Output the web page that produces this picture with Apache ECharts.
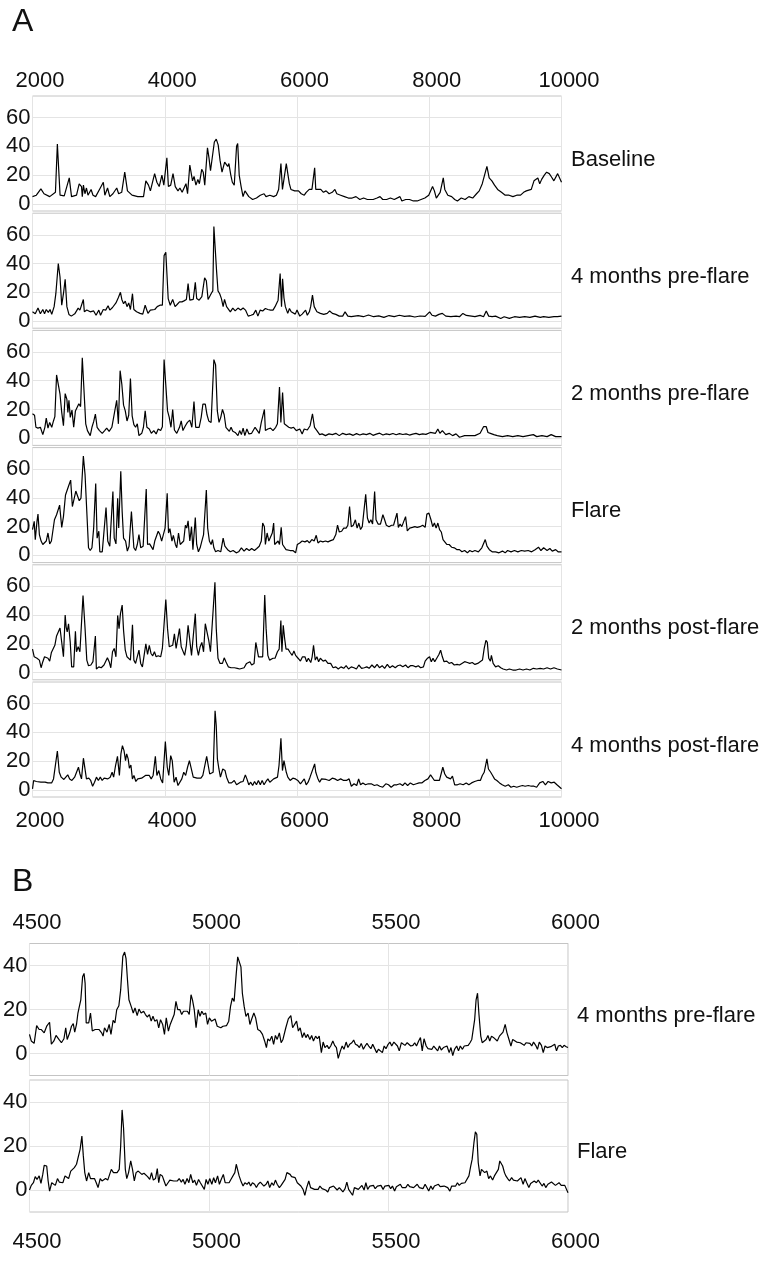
<!DOCTYPE html>
<html>
<head>
<meta charset="utf-8">
<script src="https://cdn.jsdelivr.net/npm/echarts@6/dist/echarts.min.js"></script>
<style>
html,body{margin:0;padding:0;background:#fff}
#main{width:771px;height:1264px}
</style>
</head>
<body>
<div id="main"></div>
<script>
// panel A: spectra 2000-10000, [m/z, intensity]
var baseline = [[2000,5],[2058,6],[2127,10.4],[2174,7],[2260,5],[2347,8],[2376,41.6],[2417,6],[2480,5.5],[2556,18],[2590,5],[2666,6],[2706,13.9],[2741,12],[2753,5],[2770,13],[2793,7],[2816,11],[2839,6],[2886,10],[2915,6],[2955,5],[3025,11],[3071,15],[3094,6],[3135,11],[3169,5],[3216,7],[3274,11],[3303,7],[3349,8],[3395,22],[3436,9],[3505,6],[3592,5],[3679,5],[3714,16],[3754,13],[3783,9],[3847,21],[3881,15],[3916,12],[3957,20],[3986,13],[4032,32],[4055,12],[4090,13],[4125,21],[4159,12],[4200,9],[4229,11],[4263,8],[4321,14],[4345,7],[4379,27],[4402,26],[4420,16],[4443,19],[4472,13],[4501,17],[4524,14],[4559,24],[4582,22],[4605,13],[4646,39],[4669,32],[4692,23],[4715,22],[4750,43],[4779,45],[4808,41],[4837,30],[4866,22],[4906,29],[4923,28],[4952,26],[4970,28],[4999,20],[5022,15],[5051,13],[5086,40],[5103,42],[5126,20],[5155,12],[5184,5],[5213,9],[5242,9],[5271,5],[5329,3],[5387,4],[5445,6],[5502,7],[5531,5],[5589,6],[5647,5],[5688,6],[5722,10],[5757,28],[5780,10],[5809,9],[5838,28],[5861,27],[5884,14],[5908,10],[5965,9],[6023,9],[6064,7],[6110,6],[6139,8],[6185,10],[6226,10],[6267,25],[6284,10],[6313,11],[6359,10],[6400,8],[6440,9],[6486,7],[6533,8],[6573,10],[6602,7],[6660,6],[6718,5],[6776,4],[6834,4],[6892,5],[6950,3],[7007,4],[7065,3],[7152,3],[7210,4],[7256,5],[7297,3],[7355,3],[7413,4],[7471,3],[7557,5],[7586,2],[7644,3],[7702,3],[7760,2],[7818,2],[7876,3],[7934,4],[7992,6],[8050,12],[8078,9],[8107,4],[8165,8],[8212,18],[8235,10],[8281,6],[8339,5],[8385,3],[8426,2],[8484,4],[8542,3],[8599,5],[8657,4],[8715,7],[8756,9],[8802,14],[8872,26],[8906,18],[8947,16],[8987,13],[9034,10],[9092,8],[9149,6],[9207,6],[9265,5],[9323,6],[9381,6],[9427,8],[9468,9],[9497,10],[9543,10],[9584,16],[9613,17],[9642,18],[9671,14],[9700,17],[9740,20],[9775,22],[9815,21],[9844,19],[9885,16],[9913,15],[9942,21],[9966,20],[10000,15]];

var preFlare4 = [[2000,6.4],[2042,5],[2083,9],[2119,5],[2156,8],[2182,5],[2208,8],[2239,6],[2265,8],[2291,4.6],[2327,10],[2353,19],[2390,40],[2416,30.6],[2442,11],[2468,19],[2494,29],[2520,10],[2551,4.6],[2587,3.4],[2639,5],[2691,9],[2717,7.6],[2769,15],[2784,6.4],[2821,7.6],[2873,6.4],[2925,7],[2961,4],[3003,7.6],[3029,4],[3070,8],[3107,7.6],[3143,10.6],[3169,7.6],[3210,9.4],[3262,12.6],[3299,16.3],[3330,20],[3351,15],[3377,12],[3403,13.8],[3429,10],[3455,12.6],[3481,8],[3512,19],[3533,8],[3574,6.4],[3626,5.3],[3668,4.8],[3704,11],[3730,11],[3746,5.3],[3782,7.6],[3808,8.7],[3849,8],[3886,10],[3927,11],[3964,11],[3990,45.5],[4016,47.8],[4042,49],[4052,15.6],[4083,11],[4120,15],[4156,10],[4187,11.5],[4223,13.3],[4260,13.3],[4291,14],[4327,15],[4353,26],[4379,14.5],[4431,15],[4462,27],[4483,15.6],[4520,14.5],[4561,17],[4603,30],[4629,28],[4655,15],[4681,14],[4707,19.5],[4727,21],[4743,65.7],[4769,65.7],[4785,34],[4805,21],[4831,19],[4857,15.6],[4883,10],[4904,15],[4935,10],[4961,11],[4992,6.4],[5029,9],[5065,7],[5107,9],[5148,7.6],[5185,9],[5221,7.6],[5262,3.4],[5304,4],[5340,4.6],[5377,7.6],[5408,3.4],[5444,7.6],[5481,7],[5522,8.7],[5559,8],[5600,7.6],[5637,7.6],[5668,10],[5688,8.7],[5714,14.5],[5745,33],[5766,10],[5782,29.4],[5803,16],[5824,10],[5860,5.3],[5886,8.7],[5912,6.4],[5938,7.6],[5974,4.8],[6000,7.6],[6042,3.4],[6078,4.8],[6104,4],[6130,7.6],[6156,4],[6187,6.4],[6208,10.3],[6234,18],[6260,10],[6301,6.4],[6353,5.3],[6405,4.6],[6457,5.3],[6494,7],[6535,5.3],[6587,4.6],[6639,3.4],[6691,3.4],[6727,6.4],[6769,3.4],[6821,3],[6873,3.4],[6925,3.8],[7003,3],[7081,4.2],[7159,3],[7236,3.6],[7314,2.5],[7392,3.8],[7470,3],[7548,4],[7626,3.2],[7704,3.6],[7782,2.8],[7860,3.5],[7938,3.2],[8006,6.4],[8042,4],[8094,3.4],[8146,4.6],[8198,5.3],[8250,3.4],[8327,3],[8405,3.4],[8457,3],[8509,5.3],[8561,3.9],[8639,3.4],[8691,3],[8769,3.9],[8821,3],[8862,7],[8899,3.4],[8951,3],[9003,3.4],[9081,1.8],[9133,3],[9211,1.8],[9289,3],[9367,2.5],[9444,3],[9522,2.5],[9600,3.4],[9678,2.5],[9730,3],[9808,2.5],[9886,3],[9938,3],[10000,3.4]];

var preFlare2 = [[2000,17],[2031,16],[2052,7.6],[2083,7],[2119,7.6],[2156,2.5],[2187,7.6],[2208,14],[2234,7],[2260,11],[2291,7.6],[2317,12],[2338,15],[2364,44],[2390,44.4],[2416,30.6],[2442,18],[2468,8.7],[2494,31],[2520,27],[2535,18],[2551,26.4],[2571,14.5],[2597,19.5],[2623,7.6],[2649,19],[2675,19],[2701,24],[2727,22],[2753,56],[2779,33],[2805,10],[2831,5.3],[2873,1.8],[2899,7.6],[2925,11.5],[2951,16.8],[2977,7.6],[3013,5.3],[3055,3.4],[3091,5.3],[3122,7],[3159,4.8],[3200,7.6],[3226,8.7],[3273,26.4],[3299,10],[3325,47],[3351,37.5],[3377,23],[3403,19],[3429,12],[3455,16],[3481,41.6],[3507,15.6],[3533,9.4],[3559,7.6],[3585,10],[3610,1.8],[3652,3.4],[3678,7.6],[3704,19],[3730,7.6],[3766,6.4],[3797,3.4],[3834,5.3],[3870,3],[3901,6.4],[3938,5.3],[3964,8],[3990,54.7],[4016,54.3],[4042,19],[4068,14.5],[4094,7.6],[4120,20],[4146,5.7],[4182,3.4],[4223,7.6],[4249,12],[4275,5.3],[4312,8.7],[4343,11],[4379,12.6],[4410,7.6],[4442,25.5],[4468,7.6],[4494,8.7],[4520,7.6],[4551,14.5],[4577,23.7],[4613,23.7],[4639,16.3],[4665,12],[4701,11],[4743,54.7],[4769,51],[4795,19],[4821,11],[4847,14.5],[4873,20],[4899,16.3],[4925,7.6],[4951,6.4],[4977,4.8],[5003,7.6],[5029,4.8],[5065,4],[5107,1.8],[5133,5.3],[5159,2.5],[5185,7],[5211,1.8],[5242,6.4],[5273,3],[5314,3.4],[5340,4],[5366,7.6],[5392,6.4],[5429,3.4],[5460,11],[5507,20],[5522,5.3],[5559,6.4],[5600,7],[5637,5.3],[5678,7.6],[5704,10],[5735,35.6],[5756,11],[5782,31.7],[5808,10],[5834,8.7],[5875,7.6],[5912,7],[5948,7.6],[5990,5.3],[6042,6.4],[6078,3],[6109,6.4],[6156,5.7],[6198,8.7],[6234,17],[6265,7.6],[6301,5.3],[6343,2.5],[6379,3],[6431,1.8],[6483,3],[6535,2.5],[6587,3.4],[6639,1.8],[6691,3.4],[6743,2.5],[6795,3],[6850,2],[6900,3.2],[6950,2.2],[7000,3],[7050,2.5],[7100,3.4],[7150,2],[7200,2.8],[7250,3.5],[7300,2.2],[7350,3],[7400,2.5],[7450,3.3],[7500,2.4],[7550,3.2],[7600,2.6],[7650,3],[7700,2.2],[7750,2.8],[7800,3.4],[7850,2.5],[7900,3],[7950,2.7],[8016,4],[8042,5.3],[8094,3.4],[8130,6.4],[8161,3.4],[8198,5.3],[8250,2.5],[8301,3.4],[8353,1.8],[8405,3],[8457,0.7],[8535,1.8],[8613,1.8],[8691,1.8],[8769,3.4],[8821,8],[8862,8],[8888,4],[8925,3.4],[8977,2.5],[9029,1.8],[9107,1.1],[9185,1.8],[9263,1.1],[9340,1.8],[9418,1.1],[9496,1.8],[9574,2.5],[9626,1.1],[9704,1.8],[9782,1.1],[9844,2.5],[9912,1.1],[10000,1.1]];

var flare = [[2000,18],[2026,23.7],[2042,11],[2068,23.7],[2083,28.7],[2104,14.5],[2130,10],[2156,7.6],[2182,6.4],[2208,10],[2234,15.6],[2260,8],[2286,10],[2312,8.7],[2332,24.8],[2364,28.3],[2390,29.4],[2410,35],[2442,19.5],[2468,27],[2499,42],[2525,43],[2551,49],[2577,52.4],[2603,34],[2629,34],[2655,44.8],[2681,44.4],[2707,38],[2733,39.8],[2769,69.2],[2795,56],[2821,30.6],[2847,5.3],[2873,3.4],[2899,5.3],[2925,19],[2956,50],[2977,12],[3003,16.8],[3018,2.5],[3055,2.5],[3081,3],[3112,33.3],[3138,10],[3169,6.4],[3184,19],[3216,44.4],[3236,12],[3262,8],[3288,39.8],[3304,19],[3335,58.6],[3356,30.6],[3377,12],[3408,10],[3434,3],[3460,6.4],[3496,30.6],[3512,31.7],[3533,5.3],[3559,3.4],[3585,7.6],[3610,14.5],[3636,5.3],[3673,6.4],[3720,46.2],[3740,7.6],[3771,8],[3797,7.6],[3823,4],[3849,10],[3875,11],[3901,16.8],[3927,14.5],[3953,10],[3979,14.5],[4005,19],[4037,43.2],[4057,15.6],[4078,18.6],[4109,10],[4130,14],[4161,7.6],[4182,5.3],[4208,15.6],[4234,7.6],[4260,6.4],[4286,10],[4312,21],[4332,19],[4353,24],[4379,10],[4405,20],[4426,4],[4462,26.4],[4483,7.6],[4509,2.5],[4535,5.3],[4561,10],[4587,14.5],[4629,45.5],[4649,19],[4675,10],[4701,7.6],[4722,11],[4743,5.3],[4769,2.5],[4805,3.4],[4847,2.5],[4883,12],[4909,6.4],[4951,4],[4992,2.5],[5034,3.4],[5081,1.8],[5117,2.5],[5159,5.3],[5200,3],[5237,4.8],[5278,3.4],[5314,4.8],[5356,3.4],[5392,4.8],[5429,6.4],[5460,10],[5481,22.5],[5507,20],[5522,7.6],[5548,15.6],[5574,10],[5600,8.7],[5626,15.6],[5647,22.5],[5662,7.6],[5688,7.6],[5714,10],[5735,7.6],[5761,19.5],[5782,7.6],[5808,8.7],[5834,4],[5860,5.3],[5896,3.4],[5938,3.4],[5979,1.8],[6005,7.6],[6042,8.7],[6078,10],[6120,9.4],[6156,10.3],[6187,8.7],[6224,11],[6260,10],[6291,14],[6317,8.7],[6353,10],[6390,9.4],[6431,10],[6468,9.4],[6509,10.3],[6551,11],[6587,14.5],[6613,21],[6639,16.3],[6675,16.8],[6706,19],[6743,19],[6769,21],[6795,34],[6821,20],[6852,21],[6883,24.8],[6909,19],[6935,22.5],[6961,18],[6987,20],[7039,42.5],[7065,26],[7091,22.5],[7117,24.8],[7143,21.8],[7174,44.4],[7195,24.8],[7226,21.8],[7262,21.8],[7299,28.3],[7325,24.8],[7351,21],[7392,20],[7429,21],[7460,21],[7481,20],[7512,29.4],[7533,19.5],[7559,21.8],[7585,20],[7611,19],[7642,27],[7668,17],[7704,19],[7746,19.5],[7782,20],[7818,19.5],[7860,20],[7901,21],[7938,19.5],[7964,28.7],[7995,29.4],[8026,24.8],[8052,20],[8078,22.5],[8104,19],[8130,22.5],[8156,18],[8182,16.3],[8208,11],[8234,10],[8265,7.6],[8301,7.6],[8338,5.7],[8379,5.3],[8421,4],[8457,4],[8494,2.5],[8535,3.4],[8577,1.8],[8613,3.4],[8650,2.5],[8691,3.4],[8743,2.5],[8795,5.3],[8847,11],[8873,6.4],[8909,4],[8951,2.5],[9003,2.5],[9055,1.8],[9107,3],[9148,1.8],[9185,3.4],[9237,2.5],[9289,3.4],[9340,2.5],[9392,3.4],[9444,3],[9496,3.4],[9548,2.5],[9600,4],[9652,5.7],[9689,3.4],[9730,5.3],[9782,3.4],[9824,4.8],[9860,3],[9912,4],[9948,2.5],[10000,2.5]];

var postFlare2 = [[2000,16.3],[2026,11],[2068,10],[2104,8.7],[2130,3.4],[2156,7.6],[2182,11],[2208,10],[2234,10],[2260,8],[2286,14],[2312,14.5],[2338,19],[2364,25.5],[2390,25.5],[2416,31],[2442,31.7],[2468,11],[2494,40],[2509,31.7],[2525,28.3],[2545,34],[2571,21],[2592,4],[2623,4],[2649,28.7],[2665,14.5],[2691,18],[2717,14.5],[2764,53.6],[2795,30.6],[2821,8.7],[2847,4.8],[2883,5.3],[2914,7.6],[2951,25.5],[2966,2.5],[3003,4],[3039,3.4],[3081,5.3],[3107,4.8],[3133,10.3],[3159,7.6],[3184,3.4],[3210,14.5],[3236,16.8],[3262,11],[3288,39.8],[3309,30.6],[3330,41],[3356,47],[3377,29.4],[3403,15.6],[3429,11],[3455,10],[3481,8.7],[3512,33.3],[3533,8.7],[3559,6.4],[3585,7.6],[3610,15.6],[3636,6.4],[3662,4],[3688,3],[3714,20],[3740,12.6],[3766,19],[3792,13.3],[3818,11.7],[3844,14.5],[3870,11],[3901,11.7],[3938,11],[3964,16.8],[4016,50.8],[4042,30.6],[4068,18],[4094,19],[4120,19],[4146,27],[4172,16.8],[4197,16.3],[4223,30.6],[4249,18],[4275,19],[4301,12],[4327,19],[4353,32.9],[4379,32.9],[4405,12],[4462,41],[4483,18],[4509,12],[4535,18],[4561,21],[4587,14.5],[4613,34],[4639,34],[4665,22.5],[4691,14.5],[4717,13.3],[4759,62.8],[4779,30.6],[4805,10],[4836,6.4],[4873,6.4],[4899,10.3],[4925,7.6],[4961,4],[5003,3.4],[5055,3.4],[5096,3],[5133,2.5],[5159,1.8],[5200,3.4],[5237,6.4],[5262,5.3],[5288,7.6],[5314,5.3],[5351,6.4],[5377,21],[5403,21],[5418,11],[5444,12],[5481,11],[5512,54],[5533,30.6],[5559,12],[5585,8.7],[5611,10],[5637,10],[5668,10],[5704,14.5],[5730,16.3],[5756,36.3],[5772,14.5],[5792,32.9],[5813,23.7],[5834,16.3],[5865,16.3],[5896,14],[5927,12],[5953,15],[5979,12],[6016,10],[6052,8],[6083,11],[6120,11],[6146,7.6],[6172,10],[6208,7],[6229,11],[6250,19],[6276,8.7],[6301,11],[6327,7.6],[6353,10],[6395,8],[6431,8.7],[6468,6.4],[6509,6.4],[6546,3.4],[6587,4],[6624,2.5],[6665,4],[6707,3],[6743,4.8],[6779,2.5],[6821,4],[6862,3.4],[6899,2.5],[6935,5.3],[6977,3],[7018,3.4],[7055,4],[7091,3],[7133,5.3],[7174,3.4],[7211,5.7],[7247,3.4],[7288,4.8],[7325,3],[7366,5.7],[7403,3.4],[7444,4.8],[7486,3.4],[7522,4.8],[7559,5.3],[7600,4],[7642,5.3],[7678,3.4],[7715,4.8],[7756,4.8],[7798,4],[7834,4.8],[7870,3.4],[7912,4],[7938,8],[7974,10],[8005,11],[8031,7.6],[8057,10],[8083,7.6],[8109,8],[8146,12.6],[8172,15.6],[8198,11],[8224,7.6],[8265,8],[8301,6.4],[8338,7],[8379,5.3],[8421,5.7],[8457,5.3],[8494,6.4],[8535,7.6],[8577,7],[8613,6.4],[8650,7],[8691,5.7],[8733,6.4],[8769,7.6],[8805,8.7],[8831,16.8],[8857,22.5],[8878,21],[8899,10],[8925,8],[8940,12],[8966,6.4],[9003,4],[9044,4.8],[9081,3.4],[9117,2.5],[9169,1.8],[9211,2.5],[9263,1.8],[9314,1.8],[9366,2.5],[9418,1.8],[9470,2.5],[9522,1.8],[9574,3],[9626,2.5],[9678,3],[9730,2.5],[9782,3.4],[9834,2.5],[9886,3.4],[9938,2.5],[10000,1.8]];

var postFlare4 = [[2000,0.7],[2017,6.5],[2058,5.8],[2087,6.5],[2127,5.3],[2156,6.5],[2191,5.3],[2232,4.8],[2261,5.8],[2289,4.8],[2318,7.6],[2376,27],[2405,12.2],[2434,8.8],[2475,7.2],[2504,8.1],[2533,10.4],[2562,7.6],[2596,6.5],[2637,8.8],[2666,9.5],[2695,15.7],[2718,11],[2741,7.6],[2770,22],[2793,22],[2816,7.6],[2851,8.1],[2880,6.5],[2909,2.5],[2938,5.3],[2967,8.8],[2996,6.5],[3025,8.8],[3054,6.5],[3083,8.1],[3111,7.2],[3140,7.6],[3175,8.8],[3204,12.2],[3227,8.8],[3256,16.9],[3285,23.3],[3314,10],[3337,25],[3360,30.7],[3384,27.3],[3407,20.3],[3424,25],[3447,21.5],[3465,15],[3488,17.3],[3511,7.6],[3534,10],[3563,5.8],[3592,7.6],[3621,6.5],[3650,8.1],[3679,7.6],[3708,10],[3737,10],[3766,10],[3795,7.6],[3824,10],[3858,23.3],[3881,10],[3910,13.4],[3939,7.6],[3968,4.8],[4009,33.5],[4038,15.7],[4061,10],[4090,23.8],[4113,20.3],[4142,5.3],[4171,8.8],[4200,3],[4229,3.5],[4258,7.6],[4287,12.2],[4316,10],[4345,15.7],[4373,20.3],[4402,20.3],[4431,8.8],[4460,10],[4489,8.1],[4518,8.8],[4547,8.1],[4576,10],[4605,9.5],[4634,23.3],[4657,23.8],[4680,11],[4709,10],[4732,12.2],[4761,55],[4779,44.6],[4796,21.5],[4819,14.5],[4842,8.8],[4877,14.5],[4912,13.4],[4935,8.8],[4970,4.8],[5010,4.8],[5051,6.5],[5086,3.5],[5114,2.5],[5143,5.3],[5184,5.8],[5219,10.4],[5242,7.6],[5271,3.5],[5300,5.3],[5329,3],[5358,5.8],[5387,3.5],[5416,6.5],[5445,3.5],[5473,6.5],[5502,3.5],[5531,5.8],[5560,7.6],[5589,5.3],[5618,6.5],[5647,7.6],[5676,7.6],[5705,8.8],[5728,16.9],[5757,35.8],[5780,13.4],[5803,20.3],[5821,19.2],[5838,12.2],[5861,8.8],[5896,6.5],[5937,8.1],[5977,7.6],[6012,6.5],[6052,4.2],[6081,5.8],[6110,7.6],[6139,3.5],[6168,5.3],[6197,8.8],[6226,10],[6267,18],[6284,12.2],[6313,8.1],[6342,5.3],[6371,7.6],[6400,6.5],[6440,7.2],[6486,6.5],[6533,8.1],[6573,7.6],[6614,6.5],[6660,7.6],[6706,6.5],[6747,6.5],[6788,7.6],[6822,2.5],[6863,4.2],[6903,3],[6932,7.6],[6961,3.5],[6996,4.8],[7036,3.5],[7077,4.2],[7123,4.2],[7170,3],[7210,3.5],[7251,2.5],[7297,1.8],[7343,4.2],[7384,3.5],[7424,1.8],[7471,3.5],[7511,3.5],[7557,4.2],[7598,3],[7633,4.8],[7673,3],[7714,4.8],[7760,3.5],[7806,4.2],[7847,4.8],[7887,4.8],[7934,6.5],[7980,7.6],[8020,10.4],[8050,9.5],[8078,6.5],[8107,7.2],[8154,6.5],[8177,7.6],[8205,15.7],[8235,11],[8264,8.8],[8293,10],[8322,7.6],[8351,9.5],[8385,3.5],[8426,3.5],[8466,4.2],[8513,3.5],[8559,4.8],[8599,3.5],[8640,4.8],[8686,5.8],[8733,6.5],[8773,6.5],[8802,10],[8831,12.2],[8872,21.5],[8895,14.5],[8929,12.2],[8958,10],[8987,7.6],[9022,6.5],[9063,4.8],[9103,3.5],[9149,2.5],[9196,3.5],[9236,1.8],[9277,2.5],[9323,1.8],[9369,2.5],[9410,3],[9450,2.5],[9497,3],[9543,2.5],[9584,2.5],[9624,1.8],[9670,4.8],[9717,5.8],[9757,3.5],[9798,5.8],[9844,4.8],[9890,5.3],[9931,3.5],[9960,4.8],[10000,0.7]];

// panel B: 4500-6000 close-up
var zoomPreFlare4 = [[4500,8.7],[4505,5.7],[4513,4.6],[4520,12.7],[4527,10.9],[4533,10.9],[4537,11.2],[4541,9.4],[4548,12.4],[4553,12.7],[4556,14.2],[4561,4.2],[4568,5.7],[4574,8.2],[4582,6.4],[4589,4.9],[4596,6.7],[4601,11.7],[4605,6.4],[4612,9.4],[4617,12.4],[4622,13.6],[4626,9.7],[4631,13.2],[4635,18.4],[4639,21.4],[4643,24.4],[4648,34.9],[4652,36.4],[4655,31.9],[4658,13.9],[4665,13.9],[4670,18.4],[4675,10.2],[4683,10.9],[4688,11.7],[4694,10.9],[4701,9.4],[4705,7.9],[4709,11.7],[4716,9.7],[4722,13.2],[4727,8.7],[4733,15.1],[4738,13.9],[4743,19.9],[4749,21.7],[4754,28.9],[4760,44.2],[4765,46.1],[4769,43.1],[4773,33.4],[4777,24.4],[4784,21.1],[4789,18.4],[4794,20.7],[4800,17.2],[4805,20.2],[4811,18.4],[4818,19.2],[4823,17.7],[4828,16.6],[4834,17.7],[4839,14.7],[4844,16.9],[4849,14.7],[4855,15.4],[4860,11.7],[4865,15.4],[4871,13.2],[4876,8.7],[4881,16.2],[4887,10.2],[4892,13.2],[4897,13.9],[4903,17.7],[4908,23.7],[4913,19.9],[4919,19.9],[4924,17.7],[4929,19.2],[4934,18.4],[4940,19.2],[4945,17.7],[4950,26.7],[4954,24.4],[4959,19.9],[4964,11.7],[4970,19.9],[4975,16.9],[4980,19.2],[4985,17.7],[4991,18.4],[4996,13.2],[5001,16.2],[5007,14.7],[5012,13.9],[5017,15.7],[5023,12.4],[5028,13.2],[5033,11.7],[5039,12.4],[5044,13.2],[5049,12.7],[5055,14.7],[5060,21.4],[5065,25.2],[5070,23.7],[5076,36.4],[5080,43.9],[5084,44.2],[5089,39.4],[5093,27.4],[5098,21.4],[5103,16.9],[5109,18.4],[5114,13.2],[5119,15.7],[5125,18.4],[5130,16.2],[5136,10.9],[5143,10.2],[5149,8.7],[5155,5.7],[5160,2.7],[5164,6.7],[5169,5.7],[5175,7.9],[5180,4.2],[5185,8.2],[5190,6.4],[5196,9.4],[5201,4.9],[5206,6.4],[5214,11.7],[5221,15.7],[5228,17.2],[5233,11.7],[5238,10.9],[5244,14.7],[5249,10.2],[5254,11.7],[5260,7.2],[5265,9.4],[5270,7.2],[5275,8.7],[5281,6.4],[5286,8.2],[5291,5.7],[5297,7.9],[5302,6.7],[5307,7.9],[5313,0.4],[5318,5.2],[5323,2.7],[5329,3.7],[5334,2.2],[5339,3.4],[5345,5.7],[5350,3.7],[5355,2.7],[5360,-2.2],[5366,1.2],[5371,3.4],[5376,1.9],[5382,5.2],[5387,2.7],[5392,4.2],[5398,4.9],[5403,6.1],[5408,4.2],[5414,3.7],[5419,2.7],[5424,4.6],[5430,1.9],[5435,3.4],[5440,4.6],[5445,3.4],[5451,2.2],[5456,4.2],[5461,3.4],[5467,0.4],[5472,1.9],[5477,2.2],[5483,0.4],[5488,3.4],[5493,2.2],[5499,4.2],[5504,5.2],[5509,3.4],[5515,5.2],[5520,4.6],[5525,3.4],[5530,1.2],[5536,4.9],[5541,4.2],[5546,3.7],[5552,4.9],[5557,4.2],[5562,3.4],[5568,3.7],[5573,4.9],[5578,3.4],[5584,5.7],[5589,7.2],[5594,1.2],[5599,6.7],[5605,3.4],[5610,2.2],[5615,3.1],[5621,1.9],[5626,3.4],[5631,2.7],[5637,1.2],[5642,3.4],[5647,1.6],[5653,2.7],[5658,1.9],[5663,3.4],[5669,0.4],[5674,2.7],[5679,-1],[5684,1.9],[5690,3.4],[5695,1.2],[5700,3.4],[5706,1.9],[5711,3.4],[5716,2.7],[5722,3.7],[5727,4.9],[5732,6.4],[5740,15.4],[5744,24.4],[5748,27.4],[5752,17.7],[5757,7.9],[5761,4.9],[5766,5.7],[5772,6.4],[5777,8.2],[5782,5.7],[5787,7.9],[5793,7.2],[5798,6.4],[5803,5.7],[5809,7.9],[5814,8.7],[5819,9.7],[5825,13.2],[5830,9.4],[5835,6.7],[5841,3.4],[5846,6.4],[5851,5.7],[5857,5.2],[5862,6.1],[5867,4.9],[5872,5.7],[5878,3.7],[5883,4.9],[5888,5.7],[5894,4.6],[5899,3.4],[5904,5.2],[5910,3.7],[5915,1.9],[5920,5.2],[5926,3.7],[5931,0.4],[5936,3.4],[5942,2.7],[5947,3.4],[5952,3.1],[5957,3.7],[5963,4.2],[5968,1.2],[5973,3.4],[5979,3.7],[5984,2.7],[5989,3.7],[5995,3.1],[6000,2.7]];

var zoomFlare = [[4500,0],[4505,2.1],[4511,3.3],[4516,6.1],[4521,4.8],[4527,6.4],[4532,3],[4537,7.1],[4541,11.2],[4548,10.9],[4552,4.1],[4556,-0.5],[4562,3.3],[4567,4.1],[4572,2.1],[4578,5.2],[4583,3.6],[4588,4.5],[4593,3.3],[4599,6.4],[4604,5.6],[4609,5.2],[4615,8.6],[4620,8.2],[4625,10.2],[4631,11.7],[4636,12.4],[4641,18.5],[4646,24.5],[4650,15.5],[4654,7.9],[4659,4.1],[4665,7.9],[4670,5.2],[4675,4.8],[4681,5.2],[4686,3.3],[4691,1.1],[4697,5.2],[4702,4.1],[4707,4.8],[4712,5.2],[4718,4.5],[4723,4.8],[4728,9.4],[4734,7.9],[4739,8.2],[4744,7.9],[4750,9.4],[4754,20],[4758,36.4],[4762,28.3],[4767,9.4],[4771,5.2],[4776,7.9],[4782,13.2],[4787,9.4],[4792,4.1],[4797,7.9],[4803,8.6],[4808,7.9],[4813,7.1],[4819,7.6],[4824,7.1],[4829,6.1],[4835,4.8],[4840,7.9],[4845,4.5],[4851,5.2],[4856,9.7],[4860,3.3],[4864,7.1],[4870,6.4],[4875,4.1],[4880,1.8],[4886,3.3],[4891,4.5],[4896,5.2],[4902,4.1],[4907,4.8],[4912,4.1],[4917,5.2],[4923,3.6],[4928,4.8],[4933,2.6],[4939,5.2],[4944,3.3],[4949,7.1],[4955,3.3],[4960,4.5],[4965,2.1],[4971,4.8],[4976,3.3],[4981,2.6],[4987,0.3],[4992,4.8],[4997,2.6],[5002,5.2],[5008,2.6],[5013,5.6],[5018,3.3],[5024,6.4],[5029,2.6],[5034,4.8],[5040,7.1],[5045,3.3],[5050,4.1],[5056,3.3],[5061,4.8],[5066,5.2],[5072,7.9],[5076,11.7],[5080,11.2],[5084,6.4],[5090,3.6],[5095,1.8],[5100,3.3],[5106,2.6],[5111,3.6],[5116,1.8],[5121,3.3],[5127,2.6],[5132,1.1],[5137,2.6],[5143,3.6],[5148,4.5],[5153,1.8],[5159,2.6],[5164,4.1],[5169,1.1],[5175,3.3],[5180,2.1],[5185,4.5],[5190,2.6],[5196,1.1],[5201,2.1],[5206,1.8],[5212,4.8],[5217,7.9],[5221,8.6],[5226,7.1],[5230,6.1],[5235,5.2],[5240,5.6],[5246,3.3],[5251,4.1],[5256,1.8],[5262,0.3],[5267,-2.4],[5272,1.1],[5278,4.1],[5283,1.1],[5288,1.8],[5294,0.3],[5299,1.1],[5304,0.3],[5309,1.8],[5315,0.6],[5320,1.1],[5325,0],[5331,-0.9],[5336,1.1],[5341,0.3],[5347,1.8],[5352,1.1],[5357,0],[5363,1.1],[5368,1.8],[5373,-0.9],[5379,0.6],[5384,3.6],[5389,0.3],[5394,1.1],[5400,-2.4],[5405,1.1],[5410,1.8],[5416,0.3],[5421,1.1],[5426,2.1],[5432,0],[5437,3.3],[5442,0.3],[5448,1.8],[5453,1.1],[5458,2.1],[5463,0.6],[5469,1.8],[5474,1.1],[5479,2.1],[5485,0.3],[5490,1.8],[5495,1.1],[5501,2.1],[5506,0.6],[5511,1.8],[5517,-0.5],[5522,1.5],[5527,0.6],[5533,2.6],[5538,1.1],[5543,1.8],[5548,1.1],[5554,2.6],[5559,1.5],[5564,2.1],[5570,1.1],[5575,1.8],[5580,2.6],[5586,1.1],[5591,1.8],[5596,0.6],[5602,2.6],[5607,1.1],[5612,-0.5],[5618,1.8],[5623,0.3],[5628,1.8],[5633,1.1],[5639,2.6],[5644,1.5],[5649,0.6],[5655,1.8],[5660,2.6],[5665,1.1],[5671,-0.5],[5676,1.8],[5681,2.6],[5687,1.8],[5692,3.3],[5697,2.1],[5703,3],[5708,2.6],[5713,3.3],[5718,4.1],[5724,6.4],[5729,10.9],[5733,13.9],[5738,21.5],[5742,26.4],[5746,25.3],[5750,12.4],[5755,6.4],[5759,9.4],[5763,9.1],[5768,7.9],[5774,8.6],[5779,5.2],[5784,6.4],[5790,4.5],[5795,6.4],[5800,6.7],[5806,9.4],[5810,13.2],[5814,13.2],[5818,10.9],[5823,7.9],[5827,6.4],[5832,5.2],[5837,4.1],[5843,5.6],[5848,4.5],[5853,4.1],[5859,4.1],[5864,3.6],[5869,5.6],[5875,2.6],[5880,5.2],[5885,3.3],[5891,1.1],[5896,3],[5901,2.1],[5906,4.1],[5912,3.3],[5917,4.5],[5922,3.6],[5928,1.8],[5933,3],[5938,1.1],[5944,2.6],[5949,1.8],[5954,3.6],[5959,3],[5965,2.1],[5970,2.6],[5975,3.3],[5981,2.1],[5986,2.6],[5991,2.1],[5996,1.8],[6000,-1.2]];

var namesA = ['Baseline', '4 months pre-flare', '2 months pre-flare', 'Flare', '2 months post-flare', '4 months post-flare'];
var namesB = ['4 months pre-flare', 'Flare'];
var yTicksA = [0, 20, 40, 60];
var yTicksB = [0, 20, 40];

var font = '"Liberation Sans", Arial, sans-serif';
var gridColor = '#e4e4e4';
var myChart = echarts.init(document.getElementById('main'));

var grids = [], xAxes = [], yAxes = [], series = [];
var texts = [
    {type: 'text', x: 12, y: 22, style: {text: 'A', fill: '#111', font: '32px ' + font, verticalAlign: 'middle', textVerticalAlign: 'middle'}},
    {type: 'text', x: 12, y: 882, style: {text: 'B', fill: '#111', font: '32px ' + font, verticalAlign: 'middle', textVerticalAlign: 'middle'}}
];

function addPanel(i, data, box, xCfg, yMin, yMax, yTicks, labelX, name) {
    grids.push({left: box[0], top: box[1], width: box[2], height: box[3], show: true,
        borderColor: '#c4c4c4', borderWidth: 1, backgroundColor: '#fff'});
    xAxes.push({
        gridIndex: i, type: 'value', min: xCfg.min, max: xCfg.max, interval: xCfg.interval,
        position: xCfg.position,
        axisLine: {show: false}, axisTick: {show: false},
        axisLabel: {show: xCfg.showLabel, fontSize: 22, color: '#111', fontFamily: font,
            margin: xCfg.margin, padding: [0, 0, 0, 15],
            formatter: function (v) { return String(v); }},
        splitLine: {show: true, lineStyle: {color: gridColor, width: 1}}
    });
    yAxes.push({
        gridIndex: i, type: 'value', min: yMin, max: yMax,
        axisLine: {show: false}, axisTick: {show: false, customValues: yTicks},
        axisLabel: {customValues: yTicks, fontSize: 22, color: '#111', fontFamily: font,
            margin: 2, padding: [6, 0, 0, 0]},
        splitLine: {show: true, lineStyle: {color: gridColor, width: 1}}
    });
    series.push({
        type: 'line', xAxisIndex: i, yAxisIndex: i, data: data,
        showSymbol: false, silent: true, animation: false,
        lineStyle: {color: '#000', width: 1.2}
    });
    texts.push({type: 'text', x: labelX, y: box[1] + box[3] / 2 + 6,
        style: {text: name, fill: '#111', font: '22px ' + font, verticalAlign: 'middle', textVerticalAlign: 'middle'}});
}

var spectraA = [baseline, preFlare4, preFlare2, flare, postFlare2, postFlare4];
spectraA.forEach(function (data, i) {
    var top = 96 + i * 117.2;
    addPanel(i, data, [32.5, top, 529, 115],
        {min: 2000, max: 10000, interval: 2000, position: i === 0 ? 'top' : 'bottom',
            showLabel: i === 0 || i === 5, margin: i === 0 ? 4 : 13},
        -5, 75, yTicksA, 571, namesA[i]);
});

var spectraB = [zoomPreFlare4, zoomFlare];
var topsB = [943.5, 1080];
spectraB.forEach(function (data, j) {
    addPanel(6 + j, data, [28, topsB[j], 540, 132],
        {min: 4500, max: 6000, interval: 500, position: j === 0 ? 'top' : 'bottom',
            showLabel: true, margin: j === 0 ? 10 : 19},
        -10, 50, yTicksB, 577, namesB[j]);
});

var option = {
    backgroundColor: '#fff',
    animation: false,
    grid: grids,
    xAxis: xAxes,
    yAxis: yAxes,
    series: series,
    graphic: texts
};
myChart.setOption(option);
</script>
</body>
</html>
